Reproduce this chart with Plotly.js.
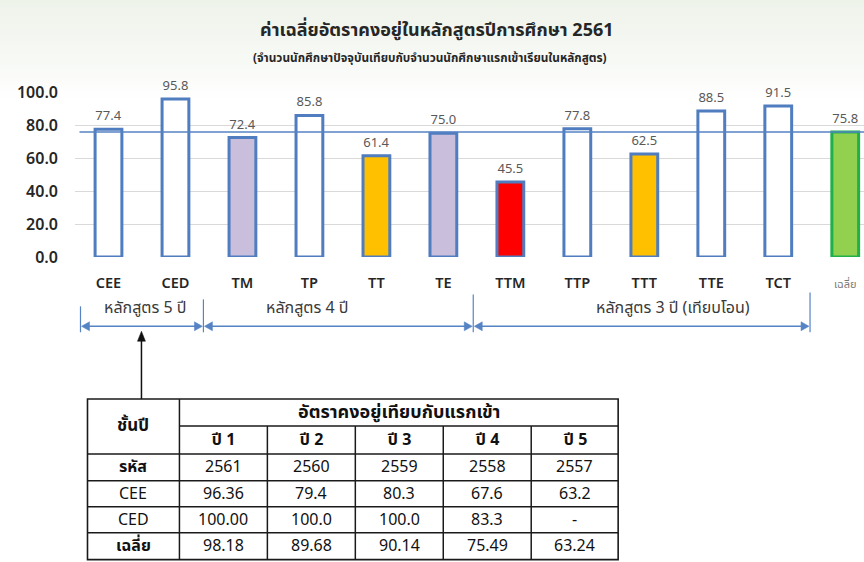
<!DOCTYPE html>
<html>
<head>
<meta charset="utf-8">
<script src="https://cdn.plot.ly/plotly-3.0.1.min.js"></script>
<style>
html,body{margin:0;padding:0;}
body{width:864px;height:562px;overflow:hidden;background:linear-gradient(to bottom,#eef3ea 0px,#f7f9f5 60px,#ffffff 100px);}
#chart{width:864px;height:562px;}
</style>
</head>
<body>
<div id="chart"></div>
<script>
// ---- data ----
const categories = ['CEE','CED','TM','TP','TT','TE','TTM','TTP','TTT','TTE','TCT','เฉลี่ย'];
const retention = [77.4, 95.8, 72.4, 85.8, 61.4, 75.0, 45.5, 77.8, 62.5, 88.5, 91.5, 75.8];
const barFill = ['#ffffff','#ffffff','#c9bfdc','#ffffff','#ffc000','#c9bfdc','#ff0000','#ffffff','#ffc000','#ffffff','#ffffff','#92d050'];
const barLine = ['#4f7dbf','#4f7dbf','#4f7dbf','#4f7dbf','#4f7dbf','#4f7dbf','#4f7dbf','#4f7dbf','#4f7dbf','#4f7dbf','#4f7dbf','#1fb04a'];
const yTicks = [0, 20, 40, 60, 80, 100];
const groupLabels = ['หลักสูตร 5 ปี', 'หลักสูตร 4 ปี', 'หลักสูตร 3 ปี (เทียบโอน)'];

const tableCorner = 'ชั้นปี';
const tableHeader = 'อัตราคงอยู่เทียบกับแรกเข้า';
const tableYears = ['ปี 1','ปี 2','ปี 3','ปี 4','ปี 5'];
const tableRowLabels = ['รหัส','CEE','CED','เฉลี่ย'];
const tableCodes = ['2561','2560','2559','2558','2557'];
const ceeRates = ['96.36','79.4','80.3','67.6','63.2'];
const cedRates = ['100.00','100.0','100.0','83.3','-'];
const avgRates = ['98.18','89.68','90.14','75.49','63.24'];
const tableRows = [tableCodes, ceeRates, cedRates, avgRates];

const titleText = 'ค่าเฉลี่ยอัตราคงอยู่ในหลักสูตรปีการศึกษา 2561';
const subtitleText = '(จำนวนนักศึกษาปัจจุบันเทียบกับจำนวนนักศึกษาแรกเข้าเรียนในหลักสูตร)';

// ---- layout geometry (pixels) ----
const W = 864, H = 562;
const mL = 74.5, mT = 92, plotH = 165.5;
const plotW = W - mL;
const mB = H - mT - plotH;
const px = x => (x - mL) / plotW;
const py = y => (mT + plotH - y) / plotH;

const FONT = '"Noto Sans Thai", "Noto Sans", "Open Sans", sans-serif';
const blue = '#5583c4';

const shapes = [];
const annotations = [];

// average line
shapes.push({type:'line', xref:'paper', yref:'y', x0:px(79), x1:1, y0:retention[retention.length-1], y1:retention[retention.length-1],
  line:{color:blue, width:1.5}, layer:'above'});

// group brackets
const bx = [80, 203, 473, 810];
const bTop = [307, 300, 295, 293];
const arrowY = 327;
function pline(x0,y0,x1,y1,color,width){
  shapes.push({type:'line', xref:'paper', yref:'paper', x0:px(x0), y0:py(y0), x1:px(x1), y1:py(y1), line:{color:color, width:width}});
}
function tri(pts,color){
  let d = 'M ' + pts.map(p => px(p[0]) + ' ' + py(p[1])).join(' L ') + ' Z';
  shapes.push({type:'path', xref:'paper', yref:'paper', path:d, fillcolor:color, line:{color:color, width:0.5}});
}
bx.forEach((x,i) => pline(x, bTop[i], x, 333, blue, 1.2));
for (let i = 0; i < 3; i++) {
  const a = bx[i] + 1, b = bx[i+1] - 1;
  pline(a + 7, arrowY, b - 7, arrowY, blue, 1.5);
  tri([[a, arrowY], [a + 8, arrowY - 4.5], [a + 8, arrowY + 4.5]], blue);
  tri([[b, arrowY], [b - 8, arrowY - 4.5], [b - 8, arrowY + 4.5]], blue);
}
const gCenters = [145, 307, 673];
groupLabels.forEach((t,i) => annotations.push({xref:'paper', yref:'paper', x:px(gCenters[i]), y:py(309), text:t, showarrow:false,
  xanchor:'center', yanchor:'middle', font:{family:FONT, size:16, color:'#3a3a3a'}}));

// black pointer arrow
pline(141, 341, 141, 400, '#111111', 1.5);
tri([[141, 332], [137, 342], [145, 342]], '#111111');

// table
const tx = [87, 179, 267, 355, 443, 531, 618];
const ty = [400, 427, 455, 482, 508, 534, 561];
shapes.push({type:'rect', xref:'paper', yref:'paper', x0:px(tx[0]), x1:px(tx[6]), y0:py(ty[0]), y1:py(ty[6]), line:{color:'#1a1a1a', width:1.6}});
pline(tx[1], ty[0], tx[1], ty[6], '#1a1a1a', 1.5);
pline(tx[1], ty[1], tx[6], ty[1], '#1a1a1a', 1.5);
for (let r = 2; r <= 5; r++) pline(tx[0], ty[r], tx[6], ty[r], '#1a1a1a', 1.5);
for (let c = 2; c <= 5; c++) pline(tx[c], ty[1], tx[c], ty[6], '#1a1a1a', 1.5);

function cell(x, y, text, bold, size){
  annotations.push({xref:'paper', yref:'paper', x:px(x), y:py(y), text:text, showarrow:false, xanchor:'center', yanchor:'middle',
    font:{family:FONT, size:size || 16, color:'#111111', weight: bold ? 700 : 400}});
}
cell((tx[0]+tx[1])/2, (ty[0]+ty[2])/2, tableCorner, true, 17);
cell((tx[1]+tx[6])/2, (ty[0]+ty[1])/2, tableHeader, true, 18);
tableYears.forEach((t,c) => cell((tx[c+1]+tx[c+2])/2, (ty[1]+ty[2])/2, t, true, 16));
tableRowLabels.forEach((t,r) => cell((tx[0]+tx[1])/2, (ty[r+2]+ty[r+3])/2, t, r === 0 || r === 3, 16));
tableRows.forEach((row,r) => row.forEach((v,c) => cell((tx[c+1]+tx[c+2])/2, (ty[r+2]+ty[r+3])/2, v, false, 16)));

// titles
annotations.push({xref:'paper', yref:'paper', x:px(437), y:py(30), text:'<b>'+titleText+'</b>', showarrow:false, xanchor:'center', yanchor:'middle',
  font:{family:FONT, size:18, color:'#262626'}});
annotations.push({xref:'paper', yref:'paper', x:px(430), y:py(58), text:'<b>'+subtitleText+'</b>', showarrow:false, xanchor:'center', yanchor:'middle',
  font:{family:FONT, size:11.8, color:'#262626'}});

const tickText = categories.map((c,i) => i === categories.length - 1
  ? '<span style="font-size:11px;color:#7a7a7a;font-weight:400">' + c + '</span>' : c);

const trace = {
  type:'bar', x:categories, y:retention, width:0.4,
  marker:{color:barFill, line:{color:barLine, width:3}},
  text:retention.map(v => v.toFixed(1)), textposition:'outside', cliponaxis:false,
  textfont:{family:FONT, size:13, color:'#595959'}, hoverinfo:'x+y'
};

const layout = {
  width:W, height:H,
  margin:{l:mL, r:0, t:mT, b:mB, pad:0},
  paper_bgcolor:'rgba(0,0,0,0)', plot_bgcolor:'rgba(0,0,0,0)',
  showlegend:false,
  xaxis:{type:'category', range:[-0.5, 11.28], tickmode:'array', tickvals:categories, ticktext:tickText,
    showgrid:false, zeroline:false, showline:false, ticks:'', ticklabelstandoff:15,
    tickfont:{family:FONT, size:14.5, color:'#262626', weight:600}},
  yaxis:{range:[0, 100], tickmode:'array', tickvals:yTicks, tickformat:'.1f', showgrid:true, gridcolor:'#d9d9d9', gridwidth:1,
    zeroline:false, showline:false, ticks:'', ticklabelstandoff:16,
    tickfont:{family:FONT, size:16, color:'#262626', weight:600}},
  shapes:shapes, annotations:annotations
};

Plotly.newPlot('chart', [trace], layout, {displayModeBar:false, staticPlot:true});
</script>
</body>
</html>
